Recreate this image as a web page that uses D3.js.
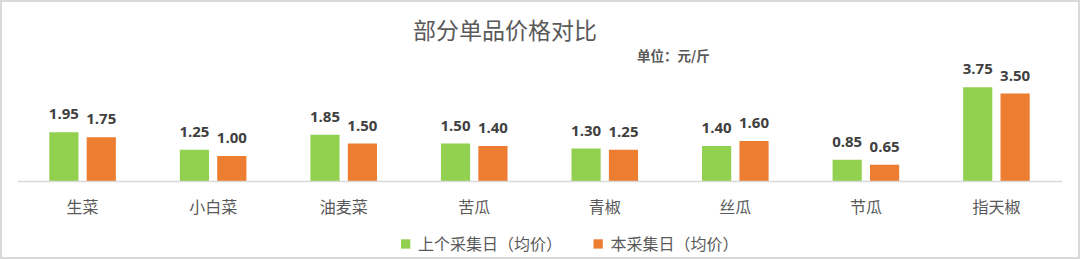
<!DOCTYPE html>
<html>
<head>
<meta charset="utf-8">
<script src="https://cdn.jsdelivr.net/npm/d3@7/dist/d3.min.js"></script>
<style>
  html, body { margin: 0; padding: 0; background: #fff; }
  svg { display: block; }
</style>
</head>
<body>
<div id="chart"></div>
<script>
// Vegetable prices (元/斤): previous vs current collection day
const categories = ["生菜", "小白菜", "油麦菜", "苦瓜", "青椒", "丝瓜", "节瓜", "指天椒"];
const previousDay = [1.95, 1.25, 1.85, 1.50, 1.30, 1.40, 0.85, 3.75];
const currentDay  = [1.75, 1.00, 1.50, 1.40, 1.25, 1.60, 0.65, 3.50];
const seriesNames = ["上个采集日（均价）", "本采集日（均价）"];
const seriesColors = ["#92d050", "#ed7d31"];

const W = 1080, H = 259;
const cjk = "'Noto Sans CJK SC', 'Noto Sans', sans-serif";
const num = "'Open Sans', 'Liberation Sans', sans-serif";

const svg = d3.select("#chart").append("svg")
  .attr("width", W).attr("height", H);

// frame
svg.append("rect")
  .attr("x", 1).attr("y", 1).attr("width", W - 2).attr("height", H - 2)
  .attr("fill", "#fff").attr("stroke", "#d9d9d9").attr("stroke-width", 2);

// title and unit
svg.append("text")
  .attr("x", 505).attr("y", 39)
  .attr("text-anchor", "middle")
  .attr("font-family", cjk).attr("font-size", 23)
  .attr("fill", "#595959")
  .text("部分单品价格对比");

svg.append("text")
  .attr("x", 637).attr("y", 61)
  .attr("font-family", cjk).attr("font-size", 13.5).attr("font-weight", 700)
  .attr("fill", "#595959")
  .text("单位：元/斤");

// scales
const x0 = d3.scaleBand().domain(categories).range([17.3, 1061.7]).padding(0);
const bw = x0.bandwidth();
const x1 = d3.scaleBand().domain([0, 1]).range([0.245 * bw, 0.755 * bw])
  .paddingInner(0.22).paddingOuter(0);
const y = d3.scaleLinear().domain([0, 4]).range([181, 81]);

const rows = categories.map((c, i) => ({ cat: c, vals: [previousDay[i], currentDay[i]] }));

const groups = svg.append("g").selectAll("g")
  .data(rows).join("g")
  .attr("transform", d => `translate(${x0(d.cat)},0)`);

groups.selectAll("rect")
  .data(d => d.vals.map((v, k) => ({ v, k })))
  .join("rect")
  .attr("x", d => x1(d.k))
  .attr("width", x1.bandwidth())
  .attr("y", d => y(d.v))
  .attr("height", d => y(0) - y(d.v))
  .attr("fill", d => seriesColors[d.k]);

groups.selectAll("text.val")
  .data(d => d.vals.map((v, k) => ({ v, k })))
  .join("text")
  .attr("class", "val")
  .attr("x", d => x1(d.k) + x1.bandwidth() / 2)
  .attr("y", d => y(d.v) - 13)
  .attr("text-anchor", "middle")
  .attr("font-family", num).attr("font-size", 15).attr("font-weight", 700)
  .attr("fill", "#404040")
  .text(d => d.v.toFixed(2));

// category axis
const xAxis = svg.append("g")
  .attr("transform", `translate(0,${y(0)})`)
  .call(d3.axisBottom(x0).tickSize(0).tickPadding(21));
xAxis.select(".domain").attr("stroke", "#d9d9d9").attr("stroke-width", 1.5);
xAxis.selectAll(".tick text")
  .attr("font-family", cjk).attr("font-size", 16)
  .attr("fill", "#595959");

// legend
const legendItems = [
  { name: seriesNames[0], color: seriesColors[0], x: 401 },
  { name: seriesNames[1], color: seriesColors[1], x: 593.5 }
];
const lg = svg.append("g").selectAll("g").data(legendItems).join("g")
  .attr("transform", d => `translate(${d.x},0)`);
lg.append("rect")
  .attr("x", 0).attr("y", 239.3).attr("width", 9.3).attr("height", 9.3)
  .attr("fill", d => d.color);
lg.append("text")
  .attr("x", 17).attr("y", 250)
  .attr("font-family", cjk).attr("font-size", 16)
  .attr("fill", "#595959")
  .text(d => d.name);
</script>
</body>
</html>
